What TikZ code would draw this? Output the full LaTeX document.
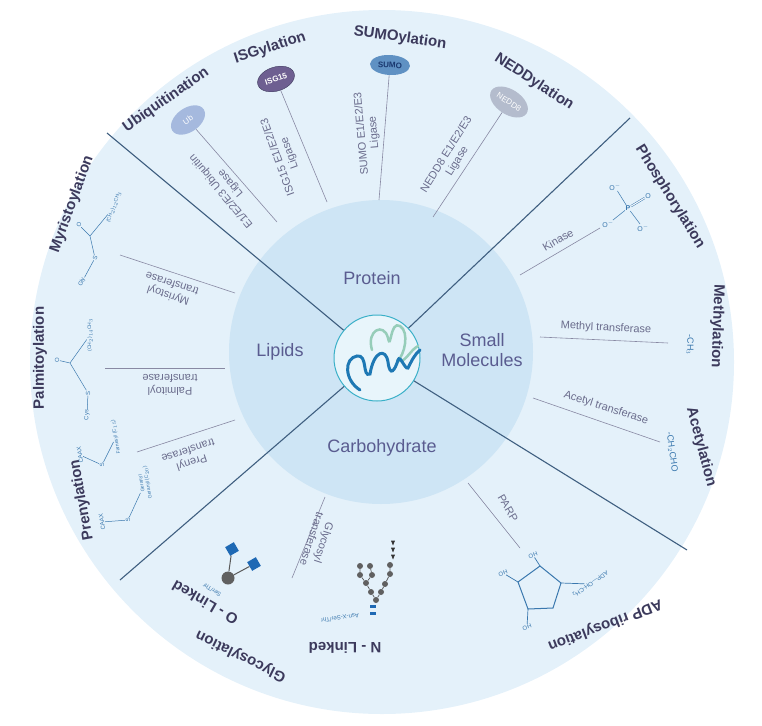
\documentclass[tikz,border=0pt]{standalone}
\usepackage{fontspec}
\setmainfont{Liberation Sans}
\usetikzlibrary{shapes.geometric}
\begin{document}
\definecolor{outer}{HTML}{E4F1FA}
\definecolor{inner}{HTML}{CEE5F5}
\definecolor{divl}{HTML}{3F5F80}
\definecolor{lab}{HTML}{3C3A5C}
\definecolor{enz}{HTML}{6A6C8C}
\definecolor{chem}{HTML}{3A78AE}
\definecolor{cat}{HTML}{5A5C90}
\definecolor{ribg}{RGB}{150,205,185}
\definecolor{ribb}{RGB}{30,120,180}
\definecolor{iconb}{RGB}{58,176,200}
\definecolor{iconf}{RGB}{232,245,251}
\definecolor{ubc}{RGB}{165,185,222}
\definecolor{isgc}{RGB}{110,95,145}
\definecolor{sumoc}{RGB}{95,145,195}
\definecolor{sumot}{RGB}{25,55,110}
\definecolor{neddc}{RGB}{180,188,205}
\definecolor{sqb}{RGB}{30,105,180}
\begin{tikzpicture}[x=1pt,y=-1pt,
  lbl/.style={font=\fontsize{15}{17}\selectfont\bfseries, text=lab, inner sep=0pt},
  enzt/.style={font=\fontsize{11}{12.5}\selectfont, text=enz, align=center, inner sep=0pt},
  cl/.style={font=\fontsize{18}{20}\selectfont, text=cat, align=center, inner sep=0pt},
  ch/.style={font=\fontsize{6}{7}\selectfont, text=chem, inner sep=0.5pt},
  conn/.style={draw=enz!80, line width=0.6pt},
  dl/.style={draw=divl, line width=1.1pt},
  tag/.style={ellipse, minimum width=38pt, minimum height=24pt, inner sep=0pt, font=\fontsize{8}{9}\selectfont}]
\useasboundingbox (0,0) rectangle (762,725);
\fill[outer] (382,362) circle[radius=352];
\fill[inner] (381,352) circle[radius=152];
\node[circle, draw=iconb, line width=1pt, fill=iconf, minimum size=86pt] (icon) at (377,358) {};
% dividing lines
\coordinate (e1) at (107,133); \coordinate (e2) at (630,118);
\coordinate (e3) at (687,550); \coordinate (e4) at (120,580);
\draw[dl] (icon) -- (e1); \draw[dl] (icon) -- (e2);
\draw[dl] (icon) -- (e3); \draw[dl] (icon) -- (e4);
% protein ribbon icon
\draw[ribg, line width=2.5pt, line cap=round] (372,350) .. controls (366,330) and (384,322) .. (388,338) .. controls (391,352) and (390,320) .. (400,326) .. controls (410,332) and (404,356) .. (398,360) .. controls (404,365) and (410,350) .. (418,346);
\draw[ribb, line width=3pt, line cap=round] (360,390) .. controls (344,380) and (344,358) .. (357,356) .. controls (368,354) and (362,378) .. (370,374) .. controls (374,350) and (386,348) .. (388,362) .. controls (390,378) and (395,370) .. (398,360) .. controls (400,354) and (405,370) .. (408,368) .. controls (412,360) and (415,354) .. (420,350);
% category labels
\node[cl] (prot) at (372,278) {Protein};
\node[cl] (smol) at (482,350) {Small\\Molecules};
\node[cl] (lip) at (280,352) {Lipids};
\node[cl] (carb) at (382,448) {Carbohydrate};
% ---- Protein sector
\node[lbl, rotate=35] (ubq) at (166,100) {Ubiquitination};
\node[lbl, rotate=18] (isg) at (270,48) {ISGylation};
\node[lbl, rotate=-8] (sumo) at (400,38) {SUMOylation};
\node[lbl, rotate=-33] (nedd) at (534,82) {NEDDylation};
\node[tag, rotate=35, fill=ubc, text=white] (ub) at (188,120) {Ub};
\node[tag, rotate=18, fill=isgc, text=white, draw=lab] (isg15) at (276,79) {\bfseries ISG15};
\node[tag, rotate=-3, fill=sumoc, text=sumot, minimum width=40pt, minimum height=20pt] (sumot) at (390,65) {\bfseries SUMO};
\node[tag, rotate=-33, fill=neddc, text=white, minimum width=42pt, minimum height=25pt] (nedd8) at (509,102) {NEDD8};
\coordinate (ube) at (277,222); \coordinate (isge) at (327,202);
\coordinate (sue) at (379,200); \coordinate (nee) at (433,217);
\draw[conn] (ub) -- (ube); \draw[conn] (isg15) -- (isge);
\draw[conn] (sumot) -- (sue); \draw[conn] (nedd8) -- (nee);
\node[enzt, rotate=130] (ube3) at (226,187) {E1/E2/E3 Ubiquitin\\Ligase};
\node[enzt, rotate=110] (isgl) at (284,155) {ISG15 E1/E2/E3\\Ligase};
\node[enzt, rotate=95] (sul) at (368,133) {SUMO E1/E2/E3\\Ligase};
\node[enzt, rotate=58] (nel) at (452,158) {NEDD8 E1/E2/E3\\Ligase};
% ---- Small molecules sector
\node[lbl, rotate=-58] (phos) at (670,197) {Phosphorylation};
\node[lbl, rotate=-92] (meth) at (717,326) {Methylation};
\node[lbl, rotate=-75] (acet) at (701,447) {Acetylation};
\node[ch, font=\fontsize{7}{8}\selectfont\bfseries] (p) at (628,208) {P};
\node[ch, font=\fontsize{7}{8}\selectfont] (o1) at (615,187) {O$^{-}$};
\node[ch, font=\fontsize{7}{8}\selectfont] (o2) at (648,196) {O};
\node[ch, font=\fontsize{7}{8}\selectfont] (o3) at (608,224) {O$^{-}$};
\node[ch, font=\fontsize{7}{8}\selectfont] (o4) at (643,228) {O$^{-}$};
\draw[chem, line width=0.5pt] (p) -- (o1); \draw[chem, line width=0.5pt, double, double distance=1pt] (p) -- (o2);
\draw[chem, line width=0.5pt] (p) -- (o3); \draw[chem, line width=0.5pt] (p) -- (o4);
\coordinate (k1) at (520,275); \coordinate (k2) at (600,228);
\draw[conn] (k1) -- (k2);
\node[enzt, rotate=30] (kin) at (558,240) {Kinase};
\coordinate (m1) at (540,337); \coordinate (m2) at (668,343);
\draw[conn] (m1) -- (m2);
\node[enzt, rotate=-3] (mtr) at (606,328) {Methyl transferase};
\node[ch, font=\fontsize{9}{10}\selectfont, rotate=-90] (ch3) at (690,345) {-CH$_3$};
\coordinate (a1) at (533,398); \coordinate (a2) at (660,442);
\draw[conn] (a1) -- (a2);
\node[enzt, rotate=-18] (atr) at (606,408) {Acetyl transferase};
\node[ch, font=\fontsize{9}{10}\selectfont, rotate=-82] (ch2) at (672,452) {-CH$_2$CHO};
% ---- Carbohydrate sector
\node[lbl, rotate=154] (glyc) at (241,656) {Glycosylation};
\node[lbl, rotate=150] (olk) at (205,603) {O - Linked};
\node[lbl, rotate=180] (nlk) at (345,648) {N - Linked};
\node[lbl, rotate=201] (adpr) at (605,625) {ADP ribosylation};
% O-linked glyph
\node[circle, fill=gray!75!black, minimum size=13pt, inner sep=0pt] (gal) at (228,578) {};
\node[rectangle, fill=sqb, minimum size=10pt, rotate=30, inner sep=0pt] (sq1) at (232,549) {};
\node[rectangle, fill=sqb, minimum size=10pt, rotate=30, inner sep=0pt] (sq2) at (254,564) {};
\draw[gray!70!black, line width=1pt] (gal) -- (sq1); \draw[gray!70!black, line width=1pt] (gal) -- (sq2);
\node[ch, rotate=150] (st1) at (212,590) {Ser/Thr};
% N-linked glyph
\foreach \i/\x/\y in {a/376/600,b/371/592,c/381/592,d/366/583,e/385/584,f/360/575,g/372/575,h/390/574,i/360/566,j/370/566,k/390/565}
  \node[circle, fill=gray!75!black, minimum size=6pt, inner sep=0pt] (n\i) at (\x,\y) {};
\foreach \y in {606,613}
  \node[rectangle, fill=sqb, minimum width=6pt, minimum height=3pt, inner sep=0pt] at (373,\y) {};
\foreach \y in {542,549,556}
  \node[isosceles triangle, shape border rotate=-90, fill=black!80, minimum size=4pt, inner sep=0pt] at (393,\y) {};
\draw[gray!70!black, line width=0.7pt] (na) -- (nb) (na) -- (nc) (nb) -- (nd) (nc) -- (ne) (nd) -- (nf) (nd) -- (ng) (ne) -- (nh) (nf) -- (ni) (ng) -- (nj) (nh) -- (nk);
\node[ch, rotate=188] (asn) at (340,618) {Asn-X-Ser/Thr};
\coordinate (g1) at (325,497); \coordinate (g2) at (292,578);
\draw[conn] (g1) -- (g2);
\node[enzt, rotate=-108] (gtr) at (318,541) {Glycosyl\\transferase};
\coordinate (pa1) at (468,483); \coordinate (pa2) at (520,548);
\draw[conn] (pa1) -- (pa2);
\node[enzt, rotate=-60] (parp) at (508,508) {PARP};
% ribose
\draw[chem, line width=1pt] (540,566) coordinate (r1) -- (561,583) coordinate (r2) -- (553,608) coordinate (r3) -- (528,609) coordinate (r4) -- (518,582) coordinate (r5) -- cycle;
\node[ch, rotate=200] (ho1) at (533,555) {HO};
\node[ch, rotate=200] (ho2) at (503,573) {HO};
\node[ch, rotate=200] (ho3) at (527,627) {HO};
\node[ch, rotate=215] (adp) at (590,584) {ADP---OH-CH$_2$};
\draw[chem, line width=0.7pt] (r1) -- (ho1) (r5) -- (ho2) (r4) -- (ho3);
\draw[chem, line width=0.7pt] (r2) -- (adp);
% ---- Lipids sector
\node[lbl, rotate=70] (myr) at (72,204) {Myristoylation};
\node[lbl, rotate=90] (pal) at (40,358) {Palmitoylation};
\node[lbl, rotate=100] (pren) at (82,500) {Prenylation};
\coordinate (my1) at (120,255); \coordinate (my2) at (235,293);
\draw[conn] (my1) -- (my2);
\node[enzt, rotate=162] (mtrf) at (170,290) {Myristoyl\\transferase};
\coordinate (pl1) at (105,368); \coordinate (pl2) at (225,368);
\draw[conn] (pl1) -- (pl2);
\node[enzt, rotate=180] (ptrf) at (170,385) {Palmitoyl\\transferase};
\coordinate (pr1) at (137,452); \coordinate (pr2) at (235,420);
\draw[conn] (pr1) -- (pr2);
\node[enzt, rotate=198] (prtf) at (190,457) {Prenyl\\transferase};
% myristoyl structure
\node[ch, rotate=70] (mgly) at (82,282) {Gly};
\node[ch, rotate=70] (ms) at (95,258) {S};
\node[ch, rotate=70] (mo) at (79,225) {O};
\coordinate (mc) at (90,236);
\node[ch, rotate=70, font=\fontsize{5}{6}\selectfont] (mch) at (114,207) {(CH$_2$)$_{12}$CH$_3$};
\draw[chem, line width=0.5pt] (mgly) -- (ms) -- (mc) -- (mch) (mc) -- (mo);
% palmitoyl structure
\node[ch, rotate=90] (pcys) at (87,415) {Cys};
\node[ch, rotate=90] (ps) at (88,393) {S};
\node[ch, rotate=90] (po) at (57,360) {O};
\coordinate (pc) at (70,363);
\node[ch, rotate=90, font=\fontsize{5}{6}\selectfont] (pch) at (90,335) {(CH$_2$)$_{14}$CH$_3$};
\draw[chem, line width=0.5pt] (pcys) -- (ps) -- (pc) -- (pch) (pc) -- (po);
% prenyl structure
\node[ch, rotate=100] (cx1) at (80,455) {CAAX};
\node[ch, rotate=100] (s1) at (102,465) {S};
\node[ch, rotate=100, font=\fontsize{5}{6}\selectfont] (far) at (116,437) {Farnesyl (C$_{15}$)};
\draw[chem, line width=0.5pt] (cx1) -- (s1) -- (far);
\node[ch, rotate=100] (cx2) at (102,522) {CAAX};
\node[ch, rotate=100] (s2) at (128,520) {S};
\node[ch, rotate=100, font=\fontsize{5}{6}\selectfont, align=center] (ger) at (145,483) {Geranyl\\Geranyl (C$_{20}$)};
\draw[chem, line width=0.5pt] (cx2) -- (s2) -- (ger);
\end{tikzpicture}
\end{document}
